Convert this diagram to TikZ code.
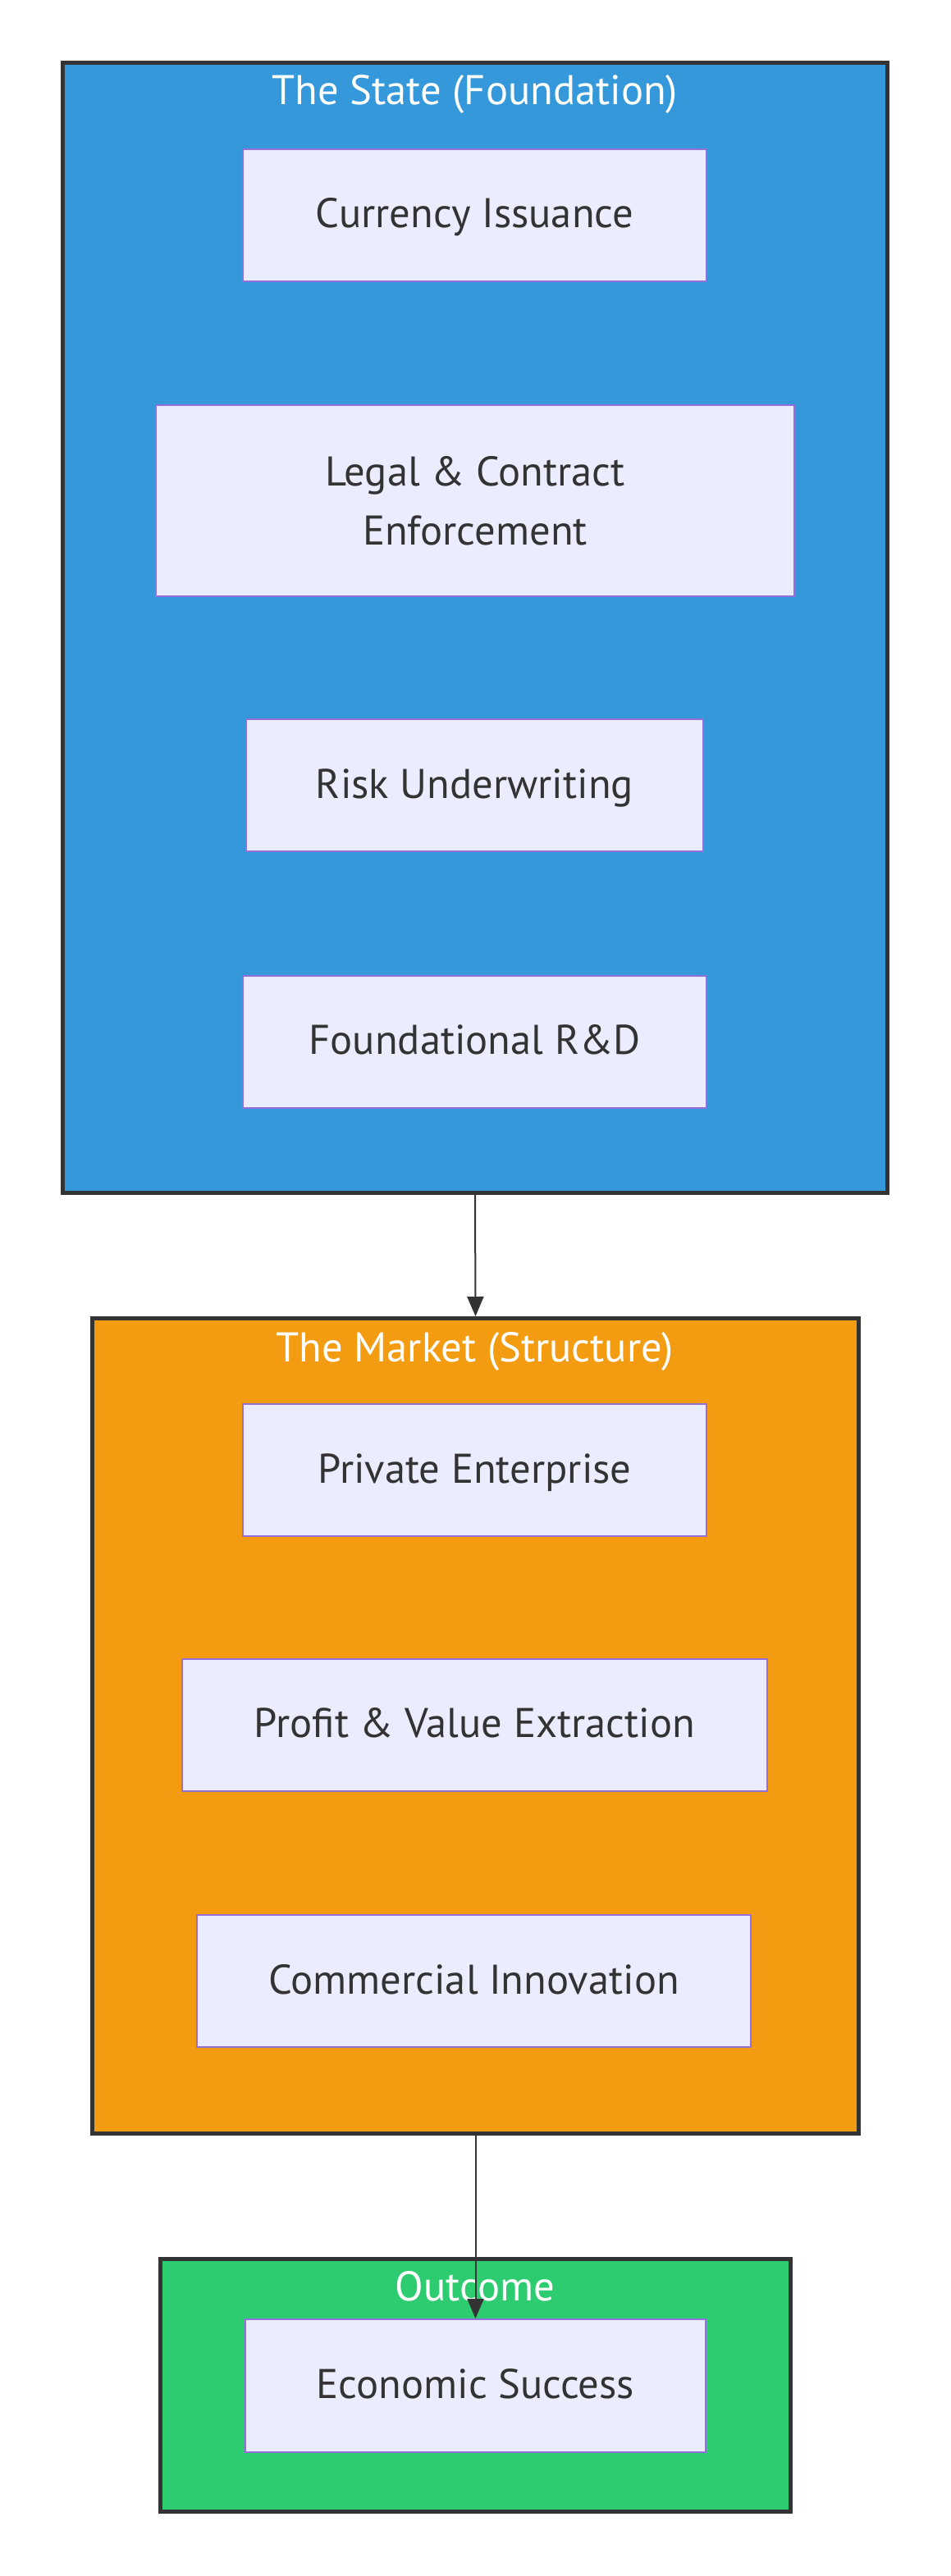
\documentclass[tikz,border=0pt]{standalone}
\usepackage{fontspec}
\setmainfont{PT Sans}
\usetikzlibrary{arrows.meta}
\definecolor{stateblue}{HTML}{3498DB}
\definecolor{marketorange}{HTML}{F39C12}
\definecolor{outgreen}{HTML}{2ECC71}
\definecolor{nodefill}{HTML}{ECECFF}
\definecolor{nodeline}{HTML}{9370DB}
\definecolor{dark}{HTML}{333333}
\tikzset{
  cluster/.style={draw=dark, line width=2.5pt, rectangle, inner sep=0pt},
  ctitle/.style={text=white, anchor=base, font=\fontsize{25.3}{36}\selectfont, inner sep=0pt},
  box/.style={draw=nodeline, fill=nodefill, line width=1pt, rectangle, inner sep=0pt,
              minimum height=80.5pt, text=dark,
              font=\fontsize{25.3}{36}\selectfont},
  oneline/.style={text height=15.5pt, text depth=0pt},
  flow/.style={draw=dark, line width=1pt, -{Triangle[length=12pt,width=10pt]}}
}
\begin{document}
\begin{tikzpicture}
\useasboundingbox[fill=white] (0,0) rectangle (579pt,-1570.5pt);
% clusters
\node[cluster, fill=stateblue, minimum width=502.5pt, minimum height=689pt] (state) at (289.5pt,-382.75pt) {};
\node[cluster, fill=marketorange, minimum width=467pt, minimum height=497pt] (market) at (289.75pt,-1052.25pt) {};
\node[cluster, fill=outgreen, minimum width=384pt, minimum height=154pt] (outcome) at (289.75pt,-1454.25pt) {};
% titles
\node[ctitle] (statet) at (289.5pt,-64pt) {The State (Foundation)};
\node[ctitle] (marktt) at (289.5pt,-830pt) {The Market (Structure)};
\node[ctitle] (outt) at (289.5pt,-1402.5pt) {Outcome};
% boxes
\node[box, oneline, minimum width=282.5pt] (cur) at (289.25pt,-131.25pt) {Currency Issuance};
\node[box, align=center, minimum width=389pt, minimum height=116.5pt] (legal) at (289.5pt,-305.25pt) {Legal \& Contract\\Enforcement};
\node[box, oneline, minimum width=278.5pt] (risk) at (289.25pt,-478.75pt) {Risk Underwriting};
\node[box, oneline, minimum width=282.5pt] (frd) at (289.25pt,-635pt) {Foundational R\&D};
\node[box, oneline, minimum width=282.5pt] (priv) at (289.25pt,-896.25pt) {Private Enterprise};
\node[box, oneline, minimum width=356.5pt] (profit) at (289.25pt,-1051.5pt) {Profit \& Value Extraction};
\node[box, oneline, minimum width=337.5pt] (comm) at (288.75pt,-1207.75pt) {Commercial Innovation};
\node[box, oneline, minimum width=280.5pt, minimum height=81pt] (econ) at (289.75pt,-1454.5pt) {Economic Success};
% connectors
\draw[flow] (state.south) -- (market.north);
\draw[flow] (market.south) -- (econ.north);
\end{tikzpicture}
\end{document}
